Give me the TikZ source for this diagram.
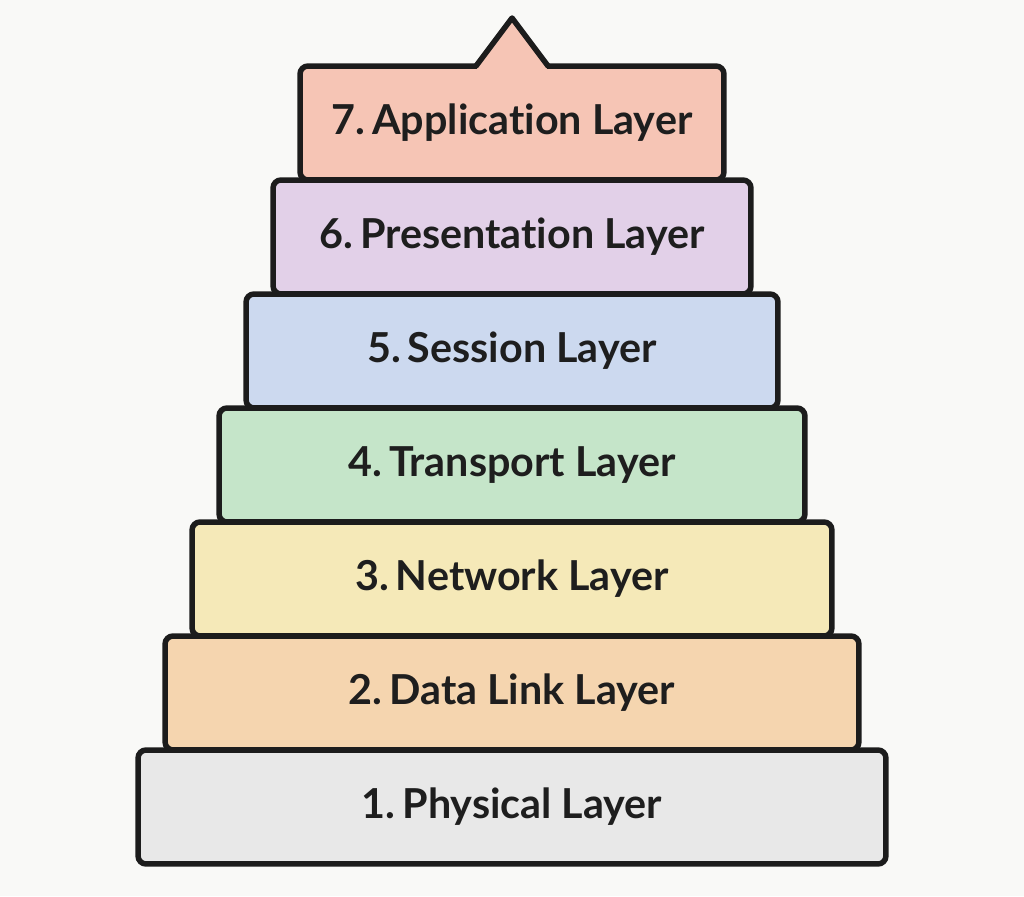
\documentclass[tikz,border=0pt]{standalone}
\usepackage{fontspec}
\setmainfont{Lato}[Ligatures=NoCommon]
\usepackage{xcolor}
\usepackage{tikz}
\usetikzlibrary{calc}
\definecolor{bgwhite}{RGB}{249,249,247}
\definecolor{edgeblack}{RGB}{28,28,28}
\definecolor{inkblack}{RGB}{30,30,30}
\definecolor{appsalmon}{RGB}{246,197,181}
\definecolor{preslilac}{RGB}{226,208,232}
\definecolor{sessblue}{RGB}{204,217,239}
\definecolor{transgreen}{RGB}{197,229,201}
\definecolor{netyellow}{RGB}{245,233,184}
\definecolor{linkorange}{RGB}{245,213,175}
\definecolor{physgray}{RGB}{232,232,232}
\tikzset{layer/.style={draw=edgeblack, line width=0.11cm, rounded corners=0.16cm, minimum height=2.28cm, inner sep=0pt, text=inkblack, font=\fontsize{23.5}{26}\selectfont\bfseries}}

\begin{document}
\begin{tikzpicture}[x=0.02cm,y=0.02cm]
			\fill[bgwhite] (0,0) rectangle (1024,896);
			\useasboundingbox (0,0) rectangle (1024,896);
			
			\node[layer, fill=physgray, minimum width=14.96cm] (phys) at (512,89) {1.\,Physical Layer};
			\node[layer, fill=linkorange, minimum width=13.88cm] (link) at (512,203) {2.\,Data Link Layer};
			\node[layer, fill=netyellow, minimum width=12.80cm] (net) at (512,317) {3.\,Network Layer};
			\node[layer, fill=transgreen, minimum width=11.72cm] (trans) at (512,431) {4.\,Transport Layer};
			\node[layer, fill=sessblue, minimum width=10.64cm] (sess) at (512,545) {5.\,Session Layer};
			\node[layer, fill=preslilac, minimum width=9.56cm] (pres) at (512,659) {6.\,Presentation Layer};
			\node[layer, fill=appsalmon, minimum width=8.48cm] (app) at (512,773) {7.\,Application Layer};
			
			\coordinate (peakbase) at ($(app.north)+(0,-2.75)$);
			\fill[appsalmon] ($(peakbase)+(-35,-3.5)$) rectangle ($(peakbase)+(35,3.2)$);
			\draw[draw=edgeblack, fill=appsalmon, line width=0.11cm, line join=round, line cap=round] ($(peakbase)+(-36,0)$) -- ($(peakbase)+(0,48)$) -- ($(peakbase)+(36,0)$);
			
		\end{tikzpicture}
\end{document}
